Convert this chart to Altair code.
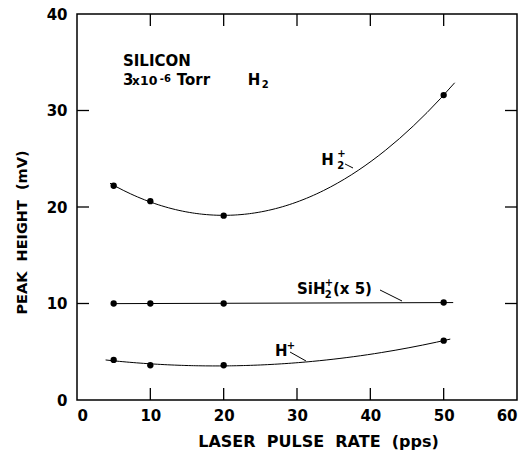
import altair as alt
import pandas as pd

# ---- data ----
x_rate = [5, 10, 20, 50]
h2_plus = [22.2, 20.6, 19.1, 31.6]
sih2_plus_x5 = [10.0, 10.0, 10.0, 10.1]
h_plus = [4.15, 3.6, 3.6, 6.15]

x_tick_vals = [10, 20, 30, 40, 50]
y_tick_vals = [10, 20, 30]
x_labels = [0, 10, 20, 30, 40, 50, 60]
y_labels = [0, 10, 20, 30, 40]

FONT = "DejaVu Sans"
NB = "\u00a0"
W, H = 440, 386

pts = pd.DataFrame(
    [{"series": "H2+", "x": x, "y": y} for x, y in zip(x_rate, h2_plus)]
    + [{"series": "SiH2+", "x": x, "y": y} for x, y in zip(x_rate, sih2_plus_x5)]
    + [{"series": "H+", "x": x, "y": y} for x, y in zip(x_rate, h_plus)]
)

x_scale = alt.Scale(domain=[0, 60], nice=False, zero=False)
y_scale = alt.Scale(domain=[0, 40], nice=False, zero=False)

x_axis = alt.Axis(
    values=x_labels, ticks=False, domain=False, grid=False, labelFont=FONT,
    labelFontSize=15, labelFontWeight="bold", labelColor="black", labelPadding=8,
    title=f"LASER{NB} PULSE{NB} RATE{NB} (pps)", titleFont=FONT, titleFontSize=16,
    titleFontWeight="bold", titleColor="black", titleX=241, titleY=41,
    titleBaseline="middle", titleAlign="center",
)
y_axis = alt.Axis(
    values=y_labels, ticks=False, domain=False, grid=False, labelFont=FONT,
    labelFontSize=15, labelFontWeight="bold", labelColor="black", labelPadding=10,
    title=f"PEAK{NB} HEIGHT{NB} (mV)", titleFont=FONT, titleFontSize=14.5,
    titleFontWeight="bold", titleColor="black", titleX=-55, titleY=218,
    titleAngle=-90, titleBaseline="middle", titleAlign="center",
)

X = alt.X("x:Q", scale=x_scale, axis=x_axis)
Y = alt.Y("y:Q", scale=y_scale, axis=y_axis)

base = alt.Chart(pts)

points = base.mark_circle(size=40, color="black", opacity=1).encode(x=X, y=Y)


def curve(series, method, order, extent):
    return (
        base.transform_filter(alt.datum.series == series)
        .transform_regression("x", "y", method=method, order=order, extent=extent)
        .mark_line(color="black", strokeWidth=1)
        .encode(x=X, y=Y)
    )


c_h2 = curve("H2+", "poly", 2, [4.5, 51.5])
c_sih = curve("SiH2+", "linear", 1, [5, 51.3])
c_h = curve("H+", "poly", 2, [3.9, 50.9])

# inward ticks
xt = alt.Chart(pd.DataFrame({"x": x_tick_vals}))
yt = alt.Chart(pd.DataFrame({"y": y_tick_vals}))
tick_bottom = xt.mark_rule(color="black", strokeWidth=1.3).encode(
    x=X, y=alt.value(H), y2=alt.value(H - 12))
tick_top = xt.mark_rule(color="black", strokeWidth=1.3).encode(
    x=X, y=alt.value(0), y2=alt.value(12))
tick_left = yt.mark_rule(color="black", strokeWidth=1.3).encode(
    y=Y, x=alt.value(0), x2=alt.value(12))
tick_right = yt.mark_rule(color="black", strokeWidth=1.3).encode(
    y=Y, x=alt.value(W), x2=alt.value(W - 12))

# annotations (data coordinates)
big_text = pd.DataFrame({
    "label": ["SILICON", "3", "10", "Torr", "H", "H", "SiH", f"(x{NB}5)", "H"],
    "x": [6.27, 6.27, 8.6, 13.6, 23.3, 33.3, 30.0, 34.9, 27.0],
    "y": [34.61, 32.64, 32.64, 32.64, 32.64, 24.35, 10.98, 10.98, 4.56],
    "size": [15, 15, 12.5, 15, 15, 15, 15, 15, 15],
})
small_text = pd.DataFrame({
    "label": ["x", "-6", "2", "+", "2", "+", "2", "+"],
    "x": [7.5, 11.3, 25.2, 35.5, 35.5, 33.8, 33.8, 28.6],
    "y": [32.64, 33.0, 32.33, 25.2, 23.94, 11.8, 10.57, 5.28],
    "size": [12, 10, 10, 10, 10, 10, 10, 10],
})
leaders = pd.DataFrame({
    "x": [36.55, 41.32, 29.05],
    "y": [24.46, 11.40, 4.97],
    "x2": [37.64, 44.32, 31.23],
    "y2": [24.04, 10.26, 4.04],
})

size_enc = alt.Size("size:Q", scale=None, legend=None)
t_big = alt.Chart(big_text).mark_text(
    align="left", baseline="alphabetic", font=FONT,
    fontWeight="bold", color="black").encode(x=X, y=Y, text="label:N", size=size_enc)
t_small = alt.Chart(small_text).mark_text(
    align="left", baseline="alphabetic", font=FONT,
    fontWeight="bold", color="black").encode(x=X, y=Y, text="label:N", size=size_enc)
t_lead = alt.Chart(leaders).mark_rule(color="black", strokeWidth=1).encode(
    x=X, y=Y, x2="x2:Q", y2="y2:Q")

chart = (
    alt.layer(tick_bottom, tick_top, tick_left, tick_right, c_h2, c_sih, c_h,
              points, t_big, t_small, t_lead)
    .properties(
        width=W, height=H,
        padding={"left": 77, "top": 14, "right": 15, "bottom": 51},
        autosize=alt.AutoSizeParams(type="none"),
        background="white",
    )
    .configure_view(stroke="black", strokeWidth=1.5)
)

chart.save("out.html", embed_options={"renderer": "svg", "actions": False})
